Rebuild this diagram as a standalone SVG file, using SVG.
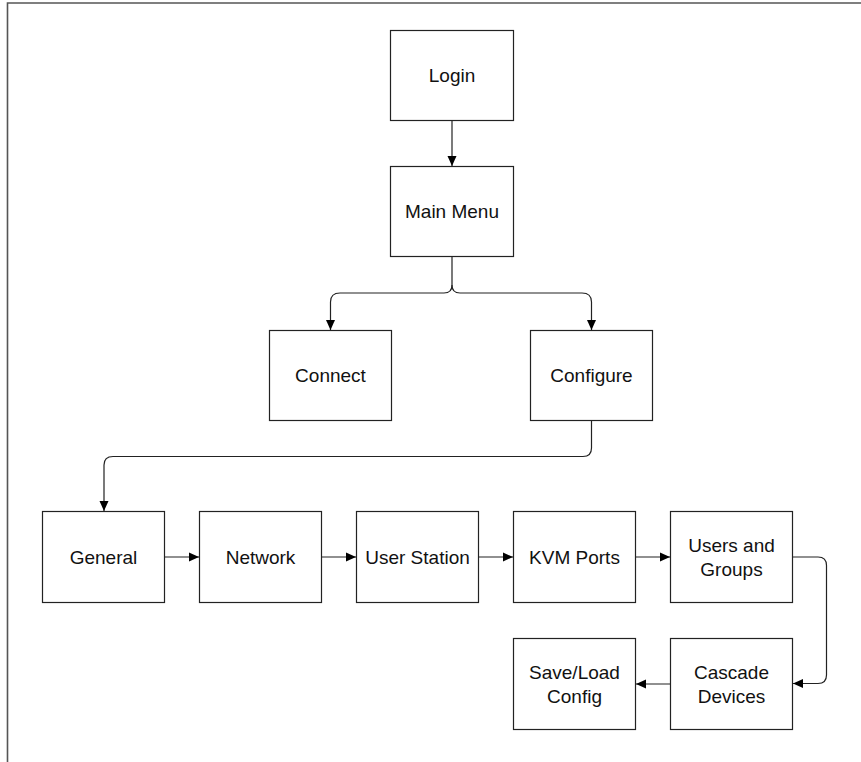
<svg xmlns="http://www.w3.org/2000/svg" width="861" height="762" viewBox="0 0 861 762">
<style>
.box{fill:#fff;stroke:#222;stroke-width:1.2}
.lbl{font-family:"Liberation Sans",Arial,sans-serif;font-size:19px;fill:#111;text-anchor:middle}
.con{fill:none;stroke:#222;stroke-width:1.2}
</style>
<defs>
<marker id="arr" markerUnits="userSpaceOnUse" markerWidth="11" markerHeight="10" refX="10" refY="5" orient="auto">
<path d="M0,0.5 L10,5 L0,9.5 Z" fill="#000"/>
</marker>
</defs>
<rect width="861" height="762" fill="#fff"/>
<path d="M7.5,762 V3 H861" fill="none" stroke="#555" stroke-width="1.6"/>
<g id="connectors">
<path class="con" d="M452,120.5 V166" marker-end="url(#arr)"/>
<path class="con" d="M452,256.5 V285 Q452,293 444,293 H340 Q330.5,293 330.5,302 V330" marker-end="url(#arr)"/>
<path class="con" d="M452,285 Q452,293 460,293 H582 Q591.5,293 591.5,302 V330" marker-end="url(#arr)"/>
<path class="con" d="M591.5,420.5 V448 Q591.5,456.5 583,456.5 H113 Q104,456.5 104,465 V511" marker-end="url(#arr)"/>
<path class="con" d="M164.5,557 H199" marker-end="url(#arr)"/>
<path class="con" d="M321.5,557 H356" marker-end="url(#arr)"/>
<path class="con" d="M478.5,557 H513" marker-end="url(#arr)"/>
<path class="con" d="M635.5,557 H670" marker-end="url(#arr)"/>
<path class="con" d="M792.5,557 H818 Q826.5,557 826.5,565.5 V675 Q826.5,683.5 818,683.5 H793" marker-end="url(#arr)"/>
<path class="con" d="M670.5,684 H636" marker-end="url(#arr)"/>
</g>
<g id="login"><rect class="box" x="390.5" y="30.5" width="123" height="90"/><text class="lbl" x="452" y="82">Login</text></g>
<g id="main-menu"><rect class="box" x="390.5" y="166.5" width="123" height="90"/><text class="lbl" x="452" y="218">Main Menu</text></g>
<g id="connect"><rect class="box" x="269.5" y="330.5" width="122" height="90"/><text class="lbl" x="330.5" y="382">Connect</text></g>
<g id="configure"><rect class="box" x="530.5" y="330.5" width="122" height="90"/><text class="lbl" x="591.5" y="382">Configure</text></g>
<g id="general"><rect class="box" x="42.5" y="511.5" width="122" height="91"/><text class="lbl" x="103.5" y="563.5">General</text></g>
<g id="network"><rect class="box" x="199.5" y="511.5" width="122" height="91"/><text class="lbl" x="260.5" y="563.5">Network</text></g>
<g id="user-station"><rect class="box" x="356.5" y="511.5" width="122" height="91"/><text class="lbl" x="417.5" y="563.5">User Station</text></g>
<g id="kvm-ports"><rect class="box" x="513.5" y="511.5" width="122" height="91"/><text class="lbl" x="574.5" y="563.5">KVM Ports</text></g>
<g id="users-groups"><rect class="box" x="670.5" y="511.5" width="122" height="91"/><text class="lbl" x="731.5" y="551.5">Users and</text><text class="lbl" x="731.5" y="575.5">Groups</text></g>
<g id="cascade"><rect class="box" x="670.5" y="638.5" width="122" height="91"/><text class="lbl" x="731.5" y="678.5">Cascade</text><text class="lbl" x="731.5" y="702.5">Devices</text></g>
<g id="save-load"><rect class="box" x="513.5" y="638.5" width="122" height="91"/><text class="lbl" x="574.5" y="678.5">Save/Load</text><text class="lbl" x="574.5" y="702.5">Config</text></g>
</svg>
